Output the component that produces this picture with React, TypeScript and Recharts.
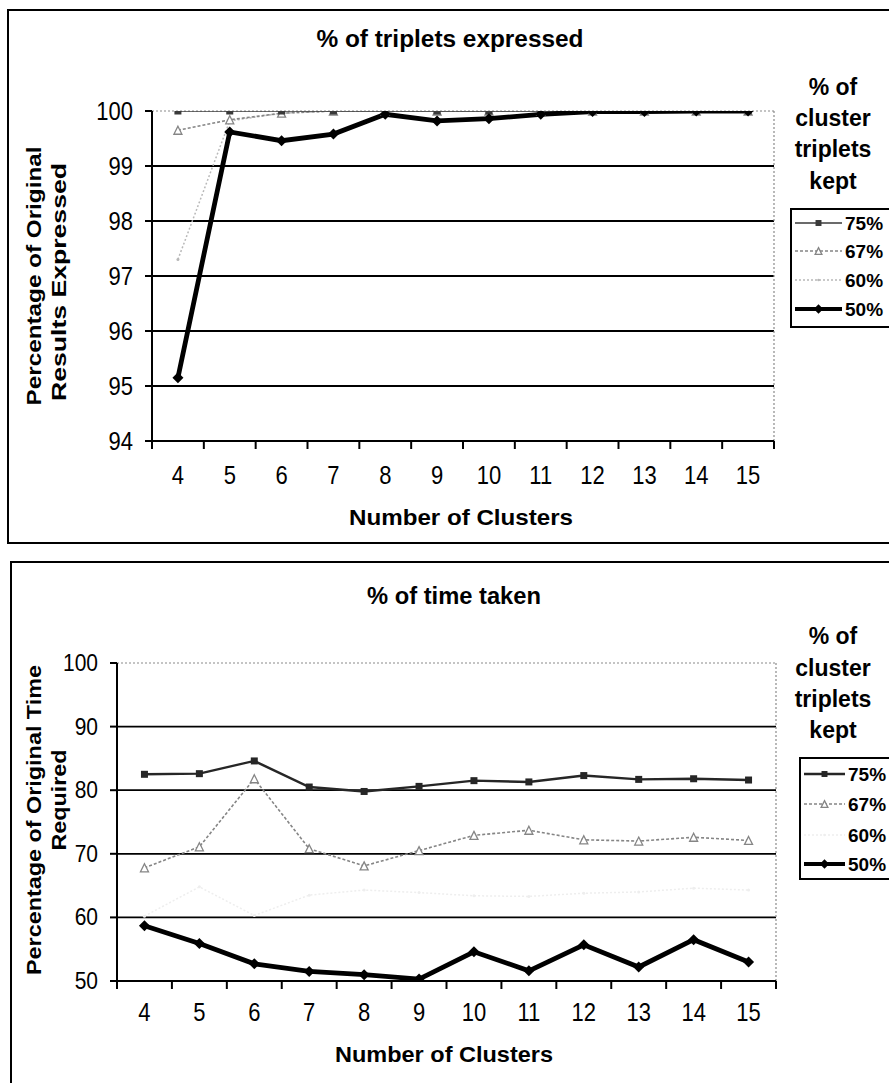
import React from "react";
import { LineChart, Line, XAxis, YAxis, CartesianGrid, ReferenceLine } from "recharts";

// Cluster counts along the x axis
const clusters = [4, 5, 6, 7, 8, 9, 10, 11, 12, 13, 14, 15];

// Share of cluster triplets kept (legend entries)
const keptLevels = ["75%", "67%", "60%", "50%"];
const keptKeys = ["k75", "k67", "k60", "k50"];

// % of triplets expressed
const expressed75 = [100, 100, 100, 100, 100, 100, 100, 100, 100, 100, 100, 100];
const expressed67 = [99.65, 99.84, 99.96, 100, 100, 100, 100, 100, 100, 100, 100, 100];
const expressed60 = [97.3, 99.82, 99.96, 100, 100, 100, 100, 100, 100, 100, 100, 100];
const expressed50 = [95.15, 99.62, 99.46, 99.58, 99.94, 99.82, 99.86, 99.94, 99.99, 99.99, 100, 100];

// % of time taken
const time75 = [82.5, 82.6, 84.6, 80.5, 79.8, 80.6, 81.5, 81.3, 82.3, 81.7, 81.8, 81.6];
const time67 = [67.8, 71.1, 81.8, 70.8, 68.1, 70.5, 72.9, 73.7, 72.2, 72.0, 72.6, 72.1];
const time60 = [60.2, 64.8, 60.3, 63.5, 64.3, 63.9, 63.4, 63.3, 63.8, 64.0, 64.6, 64.3];
const time50 = [58.7, 55.9, 52.7, 51.5, 51.0, 50.3, 54.6, 51.6, 55.7, 52.2, 56.5, 53.0];

// Axis ticks
const expressedTicks = [94, 95, 96, 97, 98, 99, 100];
const timeTicks = [50, 60, 70, 80, 90, 100];

const legendHeading = ["% of", "cluster", "triplets", "kept"];

const FONT = '"Liberation Sans", Arial, sans-serif';
const PAGE_W = 889;
const TICK_STRETCH = 1.14;

type MarkerKind = "square" | "triangle" | "dot" | "diamond";

interface SeriesStyle {
  key: string;
  name: string;
  stroke: string;
  width: number;
  dash?: string;
  marker: MarkerKind;
  markerSize: number;
}

function buildRows(values: number[][]) {
  return clusters.map((c, i) => {
    const row: Record<string, number> = { clusters: c };
    keptKeys.forEach((k, j) => {
      row[k] = values[j][i];
    });
    return row;
  });
}

const expressedRows = buildRows([expressed75, expressed67, expressed60, expressed50]);
const timeRows = buildRows([time75, time67, time60, time50]);

function makeStyles(light60: string, dark75: string, w75: number): SeriesStyle[] {
  return [
    { key: keptKeys[2], name: keptLevels[2], stroke: light60, width: 1.5, dash: "2 2", marker: "dot", markerSize: 3 },
    { key: keptKeys[1], name: keptLevels[1], stroke: "#858585", width: 1.6, dash: "3 2", marker: "triangle", markerSize: 8 },
    { key: keptKeys[0], name: keptLevels[0], stroke: dark75, width: w75, marker: "square", markerSize: 7 },
    { key: keptKeys[3], name: keptLevels[3], stroke: "#000", width: 4.8, marker: "diamond", markerSize: 11 },
  ];
}

const expressedStyles = makeStyles("#b8b8b8", "#3a3a3a", 1.6);
const timeStyles = makeStyles("#eeeeee", "#262626", 2.4);

function MarkerShape({ kind, cx, cy, size, color }: { kind: MarkerKind; cx?: number; cy?: number; size: number; color: string }) {
  if (cx == null || cy == null || isNaN(cx) || isNaN(cy)) return null;
  const h = size / 2;
  switch (kind) {
    case "square":
      return <rect x={cx - h} y={cy - h} width={size} height={size} fill={color} />;
    case "triangle":
      return (
        <polygon
          points={`${cx},${cy - h} ${cx + h},${cy + h} ${cx - h},${cy + h}`}
          fill="#fff"
          stroke={color}
          strokeWidth={1.3}
        />
      );
    case "diamond":
      return <polygon points={`${cx},${cy - h} ${cx + h},${cy} ${cx},${cy + h} ${cx - h},${cy}`} fill={color} />;
    default:
      return <circle cx={cx} cy={cy} r={h} fill={color} />;
  }
}

interface PlotRect {
  left: number;
  right: number;
  top: number;
  bottom: number;
}

interface PanelProps {
  top: number;
  height: number;
  plot: PlotRect;
  domain: [number, number];
  ticks: number[];
  rows: Record<string, number>[];
  styles: SeriesStyle[];
  yTickFont: number;
  xTickFont: number;
  xLabelGap: number;
}

function Panel(p: PanelProps) {
  const YW = 40;
  const XH = 50;
  const margin = {
    top: p.plot.top - p.top,
    left: p.plot.left - YW,
    right: PAGE_W - p.plot.right,
    bottom: p.top + p.height - p.plot.bottom - XH,
  };
  const half = (p.plot.right - p.plot.left) / clusters.length / 2;
  const lastCluster = clusters[clusters.length - 1];

  // Category labels sit under each point; tick marks fall between categories
  const renderXTick = (t: any) => {
    const axisY = t.y - p.xLabelGap;
    const isLast = t.payload.value === lastCluster;
    return (
      <g>
        <line x1={t.x - half} x2={t.x - half} y1={axisY} y2={axisY + 8} stroke="#000" strokeWidth={2} />
        {isLast && <line x1={t.x + half} x2={t.x + half} y1={axisY} y2={axisY + 8} stroke="#000" strokeWidth={2} />}
        <text
          transform={`translate(${t.x},${t.y}) scale(1,${TICK_STRETCH})`}
          textAnchor="middle"
          fontSize={p.xTickFont}
          fill="#000"
          fontFamily={FONT}
        >
          {t.payload.value}
        </text>
      </g>
    );
  };

  const renderYTick = (t: any) => (
    <text
      transform={`translate(${t.x},${t.y}) scale(1,${TICK_STRETCH})`}
      textAnchor="end"
      dominantBaseline="central"
      fontSize={p.yTickFont}
      fill="#000"
      fontFamily={FONT}
    >
      {t.payload.value}
    </text>
  );

  return (
    <div style={{ position: "absolute", left: 0, top: p.top }}>
      <LineChart width={PAGE_W} height={p.height} data={p.rows} margin={margin}>
        <CartesianGrid
          vertical={false}
          horizontalValues={p.ticks.slice(0, -1)}
          stroke="#000"
          strokeWidth={1.8}
        />
        <ReferenceLine y={p.domain[1]} stroke="#8a8a8a" strokeDasharray="2 2" strokeWidth={1.2} />
        <ReferenceLine x={lastCluster + 0.5} stroke="#8a8a8a" strokeDasharray="2 2" strokeWidth={1.2} />
        <XAxis
          dataKey="clusters"
          type="number"
          domain={[clusters[0] - 0.5, lastCluster + 0.5]}
          ticks={clusters}
          interval={0}
          height={XH}
          tickSize={0}
          tickMargin={p.xLabelGap}
          tickLine={false}
          axisLine={{ stroke: "#000", strokeWidth: 2 }}
          tick={renderXTick}
        />
        <YAxis
          type="number"
          domain={p.domain}
          ticks={p.ticks}
          interval={0}
          width={YW}
          tickSize={7}
          tickMargin={12}
          allowDataOverflow
          axisLine={{ stroke: "#000", strokeWidth: 2 }}
          tickLine={{ stroke: "#000", strokeWidth: 2 }}
          tick={renderYTick}
        />
        {p.styles.map((s) => (
          <Line
            key={s.key}
            type="linear"
            dataKey={s.key}
            name={s.name}
            stroke={s.stroke}
            strokeWidth={s.width}
            strokeDasharray={s.dash}
            isAnimationActive={false}
            activeDot={false}
            dot={(d: any) => (
              <MarkerShape
                key={`${s.key}-${d.index}`}
                kind={s.marker}
                cx={d.cx}
                cy={d.cy}
                size={s.markerSize}
                color={s.stroke}
              />
            )}
          />
        ))}
      </LineChart>
    </div>
  );
}

interface LegendProps {
  styles: SeriesStyle[];
  headingX: number;
  headingY: number[];
  box: { x: number; y: number; w: number; h: number };
  rowsY: number[];
  textX: number;
}

function KeptLegend({ styles, headingX, headingY, box, rowsY, textX }: LegendProps) {
  const order = keptKeys.map((k) => styles.find((s) => s.key === k)!);
  return (
    <g>
      {legendHeading.map((line, i) => (
        <text key={line} x={headingX} y={headingY[i] + 8} textAnchor="middle" fontSize={23} fontWeight="bold" fontFamily={FONT}>
          {line}
        </text>
      ))}
      <rect x={box.x} y={box.y} width={box.w} height={box.h} fill="#fff" stroke="#000" strokeWidth={2} />
      {order.map((s, i) => {
        const y = rowsY[i];
        const x1 = box.x + 4;
        const x2 = textX - 3;
        return (
          <g key={s.key}>
            <line x1={x1} x2={x2} y1={y} y2={y} stroke={s.stroke} strokeWidth={Math.min(s.width, 4)} strokeDasharray={s.dash} />
            <MarkerShape kind={s.marker} cx={(x1 + x2) / 2} cy={y} size={s.markerSize * 0.85} color={s.stroke} />
            <text x={textX} y={y + 7} fontSize={19} fontWeight="bold" fontFamily={FONT}>
              {s.name}
            </text>
          </g>
        );
      })}
    </g>
  );
}

function Label({ x, y, text, len, size, rotate }: { x: number; y: number; text: string; len?: number; size: number; rotate?: boolean }) {
  return (
    <text
      transform={`translate(${x},${y})${rotate ? " rotate(-90)" : ""}`}
      textAnchor="middle"
      fontSize={size}
      fontWeight="bold"
      fontFamily={FONT}
      fill="#000"
      textLength={len}
      lengthAdjust={len ? "spacingAndGlyphs" : undefined}
    >
      {text}
    </text>
  );
}

export default function App() {
  return (
    <div
      style={{
        position: "fixed",
        left: 0,
        top: 0,
        width: PAGE_W,
        height: 1083,
        overflow: "hidden",
        background: "#fff",
        fontFamily: FONT,
      }}
    >
      <div style={{ position: "absolute", left: 7, top: 9, width: 900, height: 535, border: "2px solid #000", boxSizing: "border-box" }} />
      <div style={{ position: "absolute", left: 10, top: 561, width: 900, height: 600, border: "2px solid #000", boxSizing: "border-box" }} />

      <Panel
        top={0}
        height={545}
        plot={{ left: 152, right: 774, top: 111, bottom: 441 }}
        domain={[94, 100]}
        ticks={expressedTicks}
        rows={expressedRows}
        styles={expressedStyles}
        yTickFont={22}
        xTickFont={22}
        xLabelGap={43}
      />
      <Panel
        top={545}
        height={538}
        plot={{ left: 117, right: 776, top: 663, bottom: 981 }}
        domain={[50, 100]}
        ticks={timeTicks}
        rows={timeRows}
        styles={timeStyles}
        yTickFont={21}
        xTickFont={22}
        xLabelGap={40}
      />

      <svg width={PAGE_W} height={1083} style={{ position: "absolute", left: 0, top: 0, pointerEvents: "none" }}>
        <Label x={450} y={47} text="% of triplets expressed" len={267} size={23} />
        <Label x={461} y={525} text="Number of Clusters" len={224} size={22} />
        <Label x={41} y={276} text="Percentage of Original" len={259} size={20} rotate />
        <Label x={66} y={282} text="Results Expressed" len={238} size={20} rotate />
        <KeptLegend
          styles={expressedStyles}
          headingX={833}
          headingY={[87, 118, 149, 181]}
          box={{ x: 791, y: 209, w: 120, h: 118 }}
          rowsY={[223, 251, 280, 309]}
          textX={845}
        />

        <Label x={454} y={604} text="% of time taken" len={174} size={23} />
        <Label x={444} y={1062} text="Number of Clusters" len={218} size={22} />
        <Label x={41} y={820} text="Percentage of Original Time" len={310} size={20} rotate />
        <Label x={66} y={800} text="Required" len={101} size={20} rotate />
        <KeptLegend
          styles={timeStyles}
          headingX={833}
          headingY={[636, 668, 699, 730]}
          box={{ x: 800, y: 758, w: 110, h: 121 }}
          rowsY={[774, 804, 835, 864]}
          textX={848}
        />
      </svg>
    </div>
  );
}
